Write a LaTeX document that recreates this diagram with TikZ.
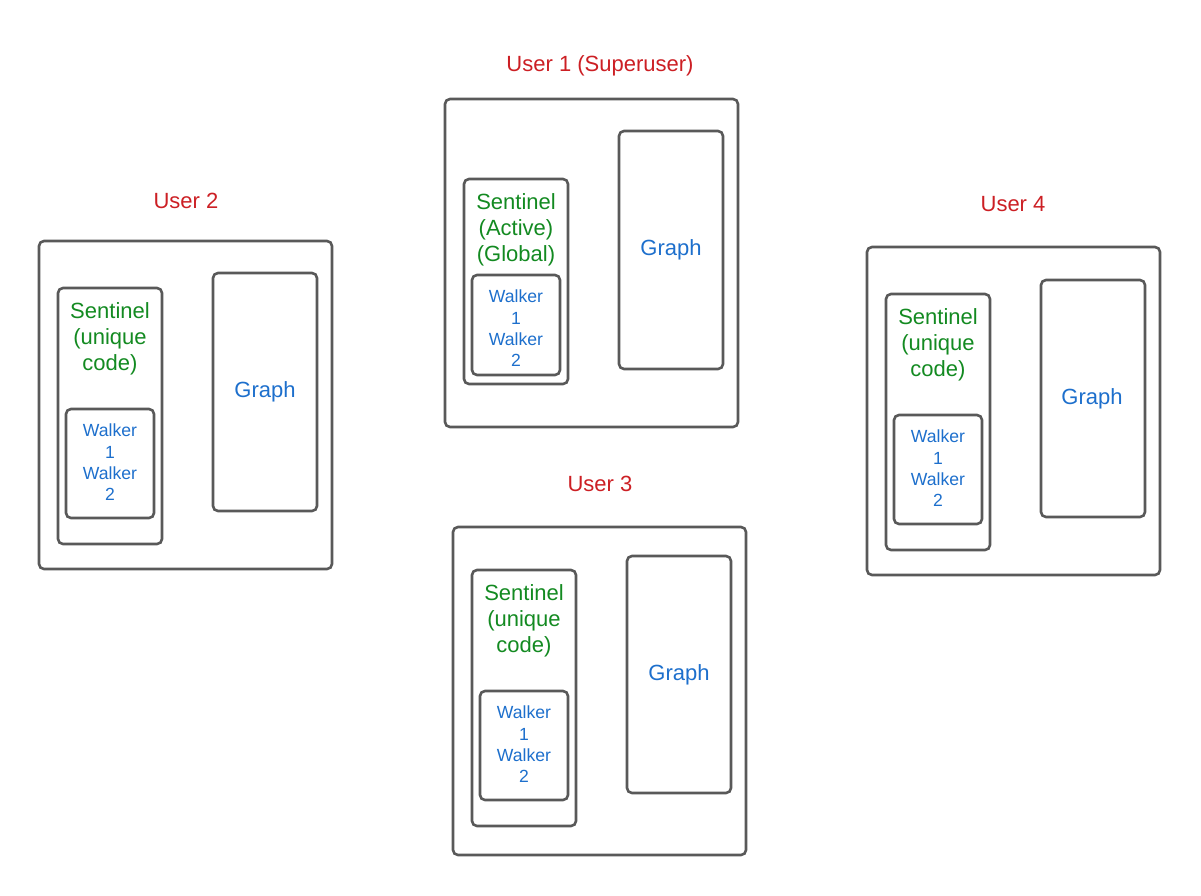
\documentclass[tikz,border=0pt]{standalone}
\usepackage{fontspec}
\setmainfont{Liberation Sans}
\definecolor{boxgray}{HTML}{595959}
\definecolor{ured}{HTML}{CC1F24}
\definecolor{sgreen}{HTML}{138A21}
\definecolor{wblue}{HTML}{1D6FCC}
\tikzset{
  frame/.style={draw=boxgray, line width=2.6pt, rounded corners=5pt},
  userlabel/.style={text=ured, font=\fontsize{22}{26}\selectfont, inner sep=0pt},
  senttext/.style={text=sgreen, font=\fontsize{22}{26.3}\selectfont, align=center, inner sep=0pt, anchor=north},
  walktext/.style={text=wblue, font=\fontsize{17.6}{21.1}\selectfont, align=center, inner sep=0pt, anchor=north},
  graphtext/.style={text=wblue, font=\fontsize{22}{26}\selectfont, inner sep=0pt},
}
\begin{document}
\begin{tikzpicture}[x=1pt,y=-1pt]
\useasboundingbox (0,0) rectangle (1201,895);
% User 1
\node[userlabel] (l1) at (600,66) {User 1 (Superuser)};
\draw[frame] (445,99) rectangle (738,427);
\draw[frame] (464,179) rectangle (568,384);
\draw[frame] (472,275) rectangle (560,375);
\draw[frame] (619,131) rectangle (723,369);
\node[senttext] (s1) at (516,193) {Sentinel\\(Active)\\(Global)};
\node[walktext] (w1) at (516,290) {Walker\\1\\Walker\\2};
\node[graphtext] (g1) at (671,250) {Graph};
% User 2
\node[userlabel] (l2) at (186,201) {User 2};
\draw[frame] (39,241) rectangle (332,569);
\draw[frame] (58,288) rectangle (162,544);
\draw[frame] (66,409) rectangle (154,518);
\draw[frame] (213,273) rectangle (317,511);
\node[senttext] (s2) at (110,302) {Sentinel\\(unique\\code)};
\node[walktext] (w2) at (110,424) {Walker\\1\\Walker\\2};
\node[graphtext] (g2) at (265,392) {Graph};
% User 3
\node[userlabel] (l3) at (600,484) {User 3};
\draw[frame] (453,527) rectangle (746,855);
\draw[frame] (472,570) rectangle (576,826);
\draw[frame] (480,691) rectangle (568,800);
\draw[frame] (627,556) rectangle (731,793);
\node[senttext] (s3) at (524,584) {Sentinel\\(unique\\code)};
\node[walktext] (w3) at (524,706) {Walker\\1\\Walker\\2};
\node[graphtext] (g3) at (679,675) {Graph};
% User 4
\node[userlabel] (l4) at (1013,204) {User 4};
\draw[frame] (867,247) rectangle (1160,575);
\draw[frame] (886,294) rectangle (990,550);
\draw[frame] (894,415) rectangle (982,524);
\draw[frame] (1041,280) rectangle (1145,517);
\node[senttext] (s4) at (938,308) {Sentinel\\(unique\\code)};
\node[walktext] (w4) at (938,430) {Walker\\1\\Walker\\2};
\node[graphtext] (g4) at (1092,399) {Graph};
\end{tikzpicture}
\end{document}
